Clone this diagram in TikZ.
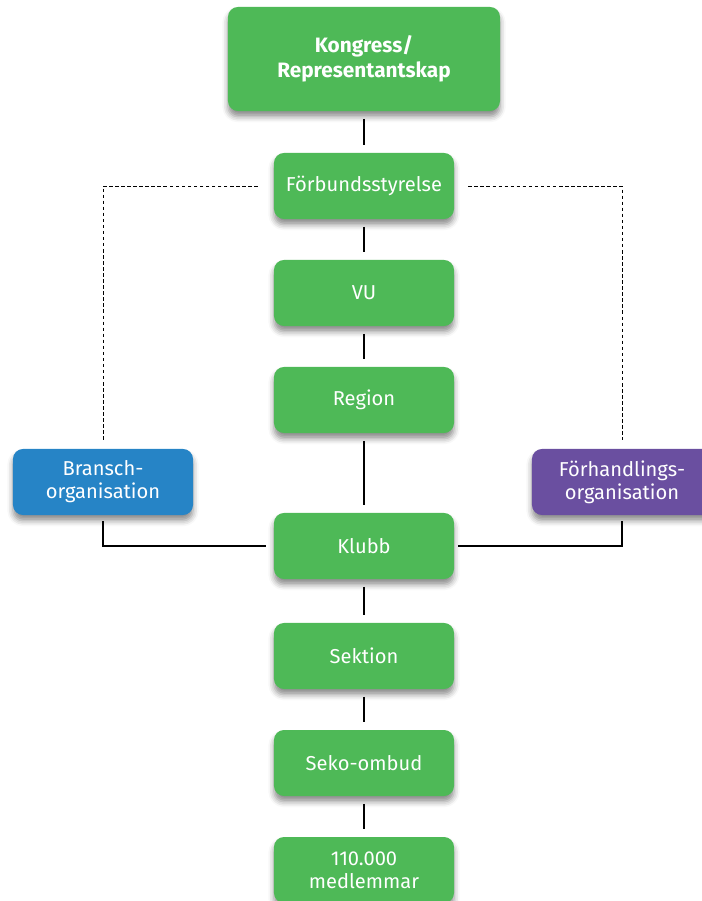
\documentclass[tikz,border=0pt]{standalone}
\usepackage{fontspec}
\setsansfont{Fira Sans}
\usetikzlibrary{shadows.blur}

\definecolor{sekogreen}{RGB}{78,185,87}
\definecolor{sekoblue}{RGB}{38,132,198}
\definecolor{sekopurple}{RGB}{106,79,160}

\begin{document}
\begin{tikzpicture}[x=0.025cm,y=-0.025cm]
	\tikzset{BoxStyle/.style =
		{rounded corners = 0.25cm,
			fill = sekogreen,
			text = white,
			align = center,
			inner sep = 0pt,
			minimum width = 4.5cm,
			minimum height = 1.65cm,
			font = \sffamily\fontsize{14.3}{16.2}\selectfont,
			blur shadow = {shadow xshift = 0pt, shadow yshift = -4pt,
				shadow blur radius = 4pt, shadow opacity = 45}}}
	\tikzset{TopStyle/.style =
		{minimum width = 6.8cm,
			minimum height = 2.6cm,
			font = \sffamily\bfseries\fontsize{14.8}{17.7}\selectfont}}
	\tikzset{EdgeStyle/.style = {line width = 0.9pt, shorten <= 0.19cm, shorten >= 0.19cm}}
	\useasboundingbox (0,0) rectangle (702,901);
	\node[BoxStyle, TopStyle] (kongress) at (364,59) {Kongress/\\Representantskap};
	\node[BoxStyle] (styrelse) at (364,186) {Förbundsstyrelse};
	\node[BoxStyle] (vu) at (364,293) {VU};
	\node[BoxStyle] (region) at (364,400) {Region};
	\node[BoxStyle] (klubb) at (364,546) {Klubb};
	\node[BoxStyle] (sektion) at (364,656) {Sektion};
	\node[BoxStyle] (ombud) at (364,763) {Seko-ombud};
	\node[BoxStyle] (medlem) at (364,870) {110.000\\medlemmar};
	\node[BoxStyle, fill = sekoblue] (bransch) at (103,482) {Bransch-\\organisation};
	\node[BoxStyle, fill = sekopurple] (forhandl) at (622,482) {Förhandlings-\\organisation};
	% main line
	\draw[EdgeStyle] (kongress) -- (styrelse);
	\draw[EdgeStyle] (styrelse) -- (vu);
	\draw[EdgeStyle] (vu) -- (region);
	\draw[EdgeStyle] (region) -- (klubb);
	\draw[EdgeStyle] (klubb) -- (sektion);
	\draw[EdgeStyle] (sektion) -- (ombud);
	\draw[EdgeStyle] (ombud) -- (medlem);
	% side organisations
	\draw[line width = 0.7pt, dash pattern = on 2.5pt off 1.8pt]
		([xshift=-0.4cm]styrelse.west) -| ([yshift=0.22cm]bransch.north);
	\draw[line width = 0.7pt, dash pattern = on 2.5pt off 1.8pt]
		([xshift=0.35cm]styrelse.east) -| ([yshift=0.22cm]forhandl.north);
	\draw[line width = 0.9pt] ([yshift=-0.15cm]bransch.south) |- ([xshift=-0.2cm]klubb.west);
	\draw[line width = 0.9pt] ([yshift=-0.15cm]forhandl.south) |- ([xshift=0.1cm]klubb.east);
\end{tikzpicture}
\end{document}
